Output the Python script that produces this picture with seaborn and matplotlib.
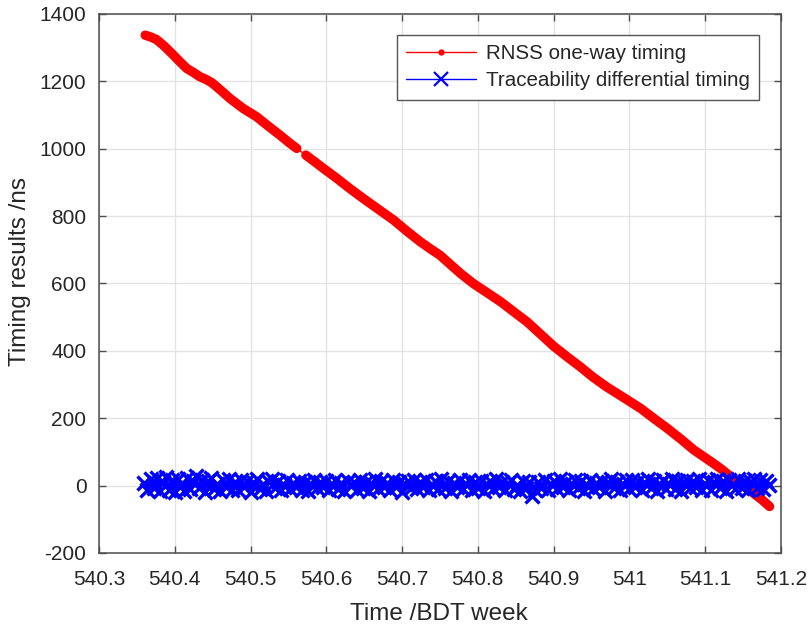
import numpy as np
import pandas as pd
import matplotlib
matplotlib.use("Agg")
import matplotlib.pyplot as plt
from matplotlib.lines import Line2D
from matplotlib.ticker import FuncFormatter
import seaborn as sns

# RNSS one-way timing result (ns) against BDT week
rnss_time = [540.361, 540.368, 540.376, 540.386, 540.396, 540.406, 540.416, 540.425,
             540.433, 540.441, 540.449, 540.461, 540.473, 540.490, 540.508, 540.523,
             540.539, 540.551, 540.561, 540.573, 540.579, 540.596, 540.614, 540.631,
             540.649, 540.669, 540.689, 540.706, 540.724, 540.738, 540.750, 540.763,
             540.777, 540.794, 540.812, 540.830, 540.848, 540.865, 540.883, 540.900,
             540.918, 540.935, 540.952, 540.970, 540.992, 541.015, 541.032, 541.050,
             541.068, 541.085, 541.098, 541.111, 541.122, 541.134, 541.150, 541.164,
             541.175, 541.185]
rnss_ns = [1337, 1332, 1324, 1305, 1283, 1260, 1238, 1226,
           1214, 1206, 1196, 1173, 1149, 1120, 1095, 1068,
           1040, 1018, 1001, 981, 971, 942, 912, 882,
           852, 820, 788, 756, 724, 702, 684, 658,
           630, 600, 573, 546, 515, 486, 449, 414,
           382, 353, 322, 293, 262, 229, 200, 170,
           138, 106, 86, 66, 48, 26, 0, -23,
           -42, -62]
# short outage in the one-way record (no epochs between these weeks)
rnss_gap = (540.562, 540.572)

# traceability differential timing result (ns)
diff_time = [540.360, 540.364, 540.368, 540.372, 540.376, 540.380, 540.384, 540.388, 540.392, 540.396,
             540.400, 540.404, 540.408, 540.412, 540.416, 540.420, 540.424, 540.428, 540.432, 540.436,
             540.440, 540.444, 540.448, 540.452, 540.456, 540.460, 540.464, 540.468, 540.472, 540.476,
             540.480, 540.484, 540.488, 540.492, 540.496, 540.500, 540.504, 540.508, 540.512, 540.516,
             540.520, 540.524, 540.528, 540.532, 540.536, 540.540, 540.544, 540.548, 540.552, 540.556,
             540.560, 540.564, 540.568, 540.572, 540.576, 540.580, 540.584, 540.588, 540.592, 540.596,
             540.600, 540.604, 540.608, 540.612, 540.616, 540.620, 540.624, 540.628, 540.632, 540.636,
             540.640, 540.644, 540.648, 540.652, 540.656, 540.660, 540.664, 540.668, 540.672, 540.676,
             540.680, 540.684, 540.688, 540.692, 540.696, 540.700, 540.704, 540.708, 540.712, 540.716,
             540.720, 540.724, 540.728, 540.732, 540.736, 540.740, 540.744, 540.748, 540.752, 540.756,
             540.760, 540.764, 540.768, 540.772, 540.776, 540.780, 540.784, 540.788, 540.792, 540.796,
             540.800, 540.804, 540.808, 540.812, 540.816, 540.820, 540.824, 540.828, 540.832, 540.836,
             540.840, 540.844, 540.848, 540.852, 540.856, 540.860, 540.864, 540.868, 540.872, 540.876,
             540.880, 540.884, 540.888, 540.892, 540.896, 540.900, 540.904, 540.908, 540.912, 540.916,
             540.920, 540.924, 540.928, 540.932, 540.936, 540.940, 540.944, 540.948, 540.952, 540.956,
             540.960, 540.964, 540.968, 540.972, 540.976, 540.980, 540.984, 540.988, 540.992, 540.996,
             541.000, 541.004, 541.008, 541.012, 541.016, 541.020, 541.024, 541.028, 541.032, 541.036,
             541.040, 541.044, 541.048, 541.052, 541.056, 541.060, 541.064, 541.068, 541.072, 541.076,
             541.080, 541.084, 541.088, 541.092, 541.096, 541.100, 541.104, 541.108, 541.112, 541.116,
             541.120, 541.124, 541.128, 541.132, 541.136, 541.140, 541.144, 541.148, 541.152, 541.156,
             541.160, 541.164, 541.168, 541.172, 541.176, 541.180, 541.184]
diff_ns = [8, -14, 20, -6, 24, -17, 11, 27, -13, 16,
           -20, 19, 3, -16, 23, -10, 14, 28, -8, 17,
           -19, 13, 22, -11, 6, -17, 16, -5, 20, -14,
           10, -13, 17, -3, 14, -19, 8, 19, -10, 5,
           -16, 11, 20, -6, 13, -14, 3, 17, -11, 8,
           -5, 14, -13, 10, -17, 6, 16, -8, 11, -3,
           13, -14, 5, 17, -10, 8, -16, 14, -2, 10,
           -13, 16, -6, 11, -17, 5, 19, -10, 13, -5,
           8, -14, 17, -3, 11, -19, 6, 14, -8, 16,
           -11, 10, -5, 17, -14, 3, 13, -10, 19, -6,
           14, -16, 8, -3, 16, -11, 5, 17, -13, 10,
           -6, 13, -17, 6, 14, -10, 19, -5, 11, -14,
           8, 16, -11, 3, -16, 13, -6, 10, -30, -14,
           11, -8, 17, -13, 5, 14, -10, 19, -3, 10,
           -14, 6, 16, -8, 13, -17, 3, 17, -11, 8,
           -5, 14, -16, 10, 19, -6, 11, -13, 5, 16,
           -10, 17, -3, 13, -14, 8, 19, -8, 14, -16,
           6, 16, -11, 5, 20, -10, 13, -17, 10, 17,
           -8, 14, -5, 19, -13, 6, 16, -14, 11, 20,
           -6, 13, -16, 17, 3, -11, 19, -8, 14, -13,
           10, 20, -6, 16, -10, 13, 3]

x_ticks = [540.3, 540.4, 540.5, 540.6, 540.7, 540.8, 540.9, 541.0, 541.1, 541.2]
y_ticks = [-200, 0, 200, 400, 600, 800, 1000, 1200, 1400]

RED = "#ff0000"
BLUE = "#0000ff"
TEXT = "#262626"

sns.set_theme(style="whitegrid")
plt.rcParams["font.family"] = ["Liberation Sans", "DejaVu Sans"]

rnss = pd.DataFrame({"t": rnss_time, "ns": rnss_ns})
rnss["seg"] = (rnss["t"] > rnss_gap[0]).astype(int)
diff = pd.DataFrame({"t": diff_time, "ns": diff_ns})

fig = plt.figure(figsize=(8.08, 6.24), dpi=100)
ax = fig.add_axes([0.1225, 0.1138, 0.844, 0.8638])

# thin connecting line across the whole record
sns.lineplot(data=rnss, x="t", y="ns", color=RED, lw=1.0, ax=ax,
             estimator=None, sort=False, legend=False, zorder=3)
# densely sampled epochs drawn as a thick dotted trace, split at the outage
sns.lineplot(data=rnss, x="t", y="ns", units="seg", color=RED, lw=6.8, ax=ax,
             estimator=None, sort=False, legend=False, zorder=3,
             solid_capstyle="round", solid_joinstyle="round")

sns.lineplot(data=diff, x="t", y="ns", color=BLUE, lw=2.0, ax=ax,
             estimator=None, sort=False, legend=False, zorder=4,
             marker="x", markersize=10, markeredgewidth=2.4,
             markeredgecolor=BLUE)

ax.set_xlim(540.3, 541.2)
ax.set_ylim(-200, 1400)
ax.set_xticks(x_ticks)
ax.set_yticks(y_ticks)
ax.xaxis.set_major_formatter(FuncFormatter(lambda v, p: f"{v:g}"))
ax.yaxis.set_major_formatter(FuncFormatter(lambda v, p: f"{v:g}"))

ax.set_facecolor("white")
ax.grid(True, color="#e3e3e3", lw=1.0)
for s in ax.spines.values():
    s.set_visible(True)
    s.set_color("#4d4d4d")
    s.set_linewidth(1.1)

ax.tick_params(axis="both", which="major", direction="in", length=5, width=1.0,
               color="#4d4d4d", labelsize=15, labelcolor=TEXT,
               top=True, right=True, bottom=True, left=True, pad=9)
ax.tick_params(axis="x", pad=12)

ax.set_xlabel("Time /BDT week", fontsize=17.5, color=TEXT)
ax.set_ylabel("Timing results /ns", fontsize=17.5, color=TEXT)
ax.xaxis.set_label_coords(0.499, -0.093)
ax.yaxis.set_label_coords(-0.100, 0.522)

handles = [
    Line2D([], [], color=RED, lw=1.0, marker=".", markersize=7),
    Line2D([], [], color=BLUE, lw=1.0, marker="x", markersize=10, markeredgewidth=1.6),
]
leg = ax.legend(handles, ["RNSS one-way timing", "Traceability differential timing"],
                loc="upper right", bbox_to_anchor=(0.968, 0.961), borderaxespad=0,
                fontsize=14.8, frameon=True, fancybox=False, framealpha=1,
                edgecolor="#555555", handlelength=3.4, borderpad=0.45,
                labelspacing=0.4, handletextpad=0.5)
leg.get_frame().set_linewidth(1.0)
for txt in leg.get_texts():
    txt.set_color(TEXT)

fig.savefig("out.png", dpi=100, facecolor="white")
